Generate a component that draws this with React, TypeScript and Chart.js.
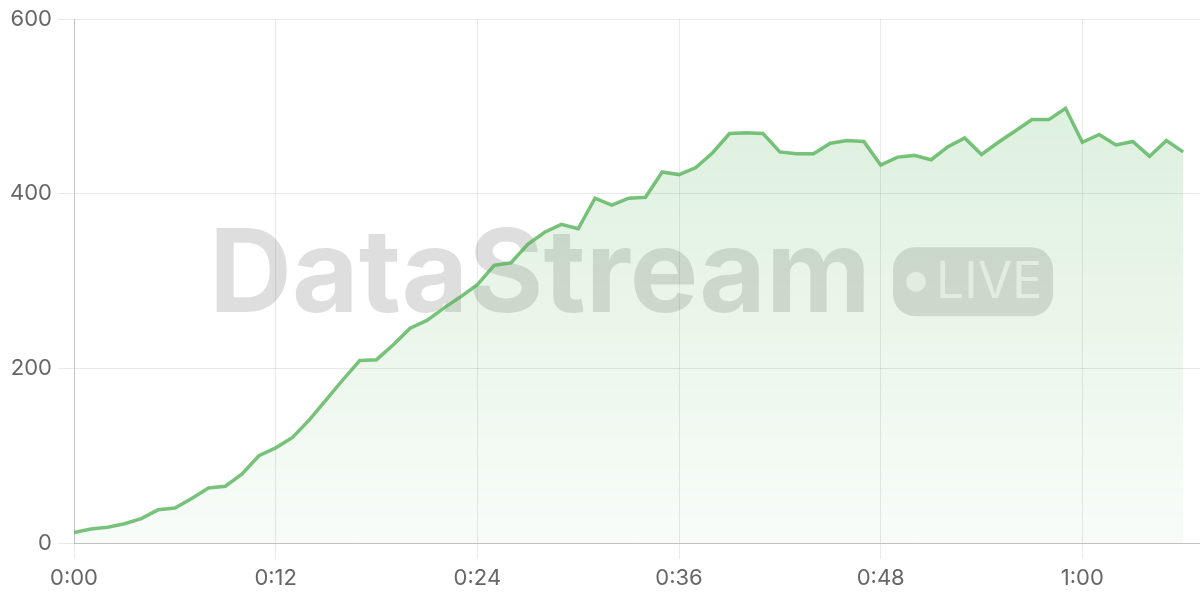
import { Chart, registerables, Plugin } from "chart.js"
import { useEffect, useRef } from "react"

Chart.register(...registerables)

// elapsed minutes of the stream
const minutes = [
	0, 1, 2, 3, 4, 5, 6, 7, 8, 9, 10, 11, 12, 13, 14, 15, 16, 17, 18, 19, 20, 21, 22, 23, 24, 25, 26, 27, 28, 29, 30, 31, 32,
	33, 34, 35, 36, 37, 38, 39, 40, 41, 42, 43, 44, 45, 46, 47, 48, 49, 50, 51, 52, 53, 54, 55, 56, 57, 58, 59, 60, 61, 62,
	63, 64, 65, 66
]

// concurrent viewers
const viewers = [
	12, 16, 18, 22, 28, 38, 40, 51, 63, 65, 79, 100, 109, 121, 141, 164, 187, 209, 210, 227, 246, 255, 269, 282, 296, 318,
	321, 342, 356, 365, 360, 395, 387, 395, 396, 425, 422, 430, 447, 469, 470, 469, 448, 446, 446, 458, 461, 460, 433, 442,
	444, 439, 454, 464, 445, 459, 472, 485, 485, 498, 459, 468, 456, 460, 443, 461, 448
]

const yTicks = [0, 200, 400, 600]
const xTicks = [0, 12, 24, 36, 48, 60]

const fontFamily = "Inter, 'Noto Sans', sans-serif"

function formatMinutes(v: number) {
	const h = Math.floor(v / 60)
	const m = v % 60
	return h + ":" + String(m).padStart(2, "0")
}

const watermark: Plugin<"line"> = {
	id: "watermark",
	beforeDraw(chart) {
		const { ctx, chartArea } = chart
		if (!chartArea) return
		ctx.save()
		const text = "DataStream"
		ctx.font = `700 115px ${fontFamily}`
		const textW = ctx.measureText(text).width
		const badgeW = 160
		const badgeH = 69
		const gap = 22
		const total = textW + gap + badgeW
		const cx = (chartArea.left + chartArea.right) / 2 - 6
		const startX = cx - total / 2
		const baseline = chartArea.top + 293
		ctx.fillStyle = "rgba(0,0,0,0.13)"
		ctx.textBaseline = "alphabetic"
		ctx.textAlign = "left"
		ctx.fillText(text, startX, baseline)

		const bx = startX + textW + gap
		const by = chartArea.top + 228
		ctx.beginPath()
		ctx.roundRect(bx, by, badgeW, badgeH, 22)
		ctx.fill()

		ctx.fillStyle = "rgba(255,255,255,0.72)"
		ctx.beginPath()
		ctx.arc(bx + 23, by + badgeH / 2, 10, 0, Math.PI * 2)
		ctx.fill()
		ctx.font = `400 50px ${fontFamily}`
		ctx.textBaseline = "middle"
		ctx.fillText("LIVE", bx + 43, by + badgeH / 2 + 1)
		ctx.restore()
	}
}

export default function App() {
	const canvasRef = useRef<HTMLCanvasElement>(null)

	useEffect(() => {
		const ctx = canvasRef.current?.getContext("2d") as CanvasRenderingContext2D
		const chart = new Chart(ctx, {
			type: "line",
			data: {
				datasets: [
					{
						label: "Viewers",
						data: minutes.map((m, i) => ({ x: m, y: viewers[i] })),
						borderColor: "rgba(76,175,80,0.75)",
						borderWidth: 3.5,
						pointRadius: 0,
						tension: 0,
						fill: "origin",
						backgroundColor(context) {
							const area = context.chart.chartArea
							if (!area) return "rgba(76,175,80,0.1)"
							const g = context.chart.ctx.createLinearGradient(0, area.top, 0, area.bottom)
							g.addColorStop(0, "rgba(76,175,80,0.22)")
							g.addColorStop(1, "rgba(76,175,80,0.04)")
							return g
						}
					}
				]
			},
			options: {
				animation: false,
				responsive: true,
				maintainAspectRatio: false,
				layout: {
					padding: { top: 19, right: 0, left: 0, bottom: 0 }
				},
				plugins: {
					legend: { display: false },
					tooltip: { enabled: false }
				},
				scales: {
					x: {
						type: "linear",
						min: 0,
						max: 67,
						afterFit(scale) {
							scale.height = 57
						},
						afterBuildTicks(scale) {
							scale.ticks = xTicks.map((v) => ({ value: v }))
						},
						grid: {
							color: "rgba(0,0,0,0.085)",
							tickLength: 16
						},
						border: { color: "rgba(0,0,0,0.17)" },
						ticks: {
							color: "#666",
							padding: 6,
							maxRotation: 0,
							font: { family: fontFamily, size: 22 },
							callback(v) {
								return formatMinutes(Number(v))
							}
						}
					},
					y: {
						min: 0,
						max: 600,
						afterFit(scale) {
							scale.width = 74
						},
						afterBuildTicks(scale) {
							scale.ticks = yTicks.map((v) => ({ value: v }))
						},
						grid: {
							color: "rgba(0,0,0,0.085)",
							tickLength: 16
						},
						border: { color: "rgba(0,0,0,0.17)" },
						ticks: {
							color: "#666",
							padding: 6,
							font: { family: fontFamily, size: 22 }
						}
					}
				}
			},
			plugins: [watermark]
		})

		return () => {
			chart.destroy()
		}
	}, [])

	return (
		<div style={{ position: "fixed", left: 0, top: 0, width: 1200, height: 600, background: "#fff" }}>
			<canvas ref={canvasRef}>Your browser does not support the canvas element.</canvas>
		</div>
	)
}
